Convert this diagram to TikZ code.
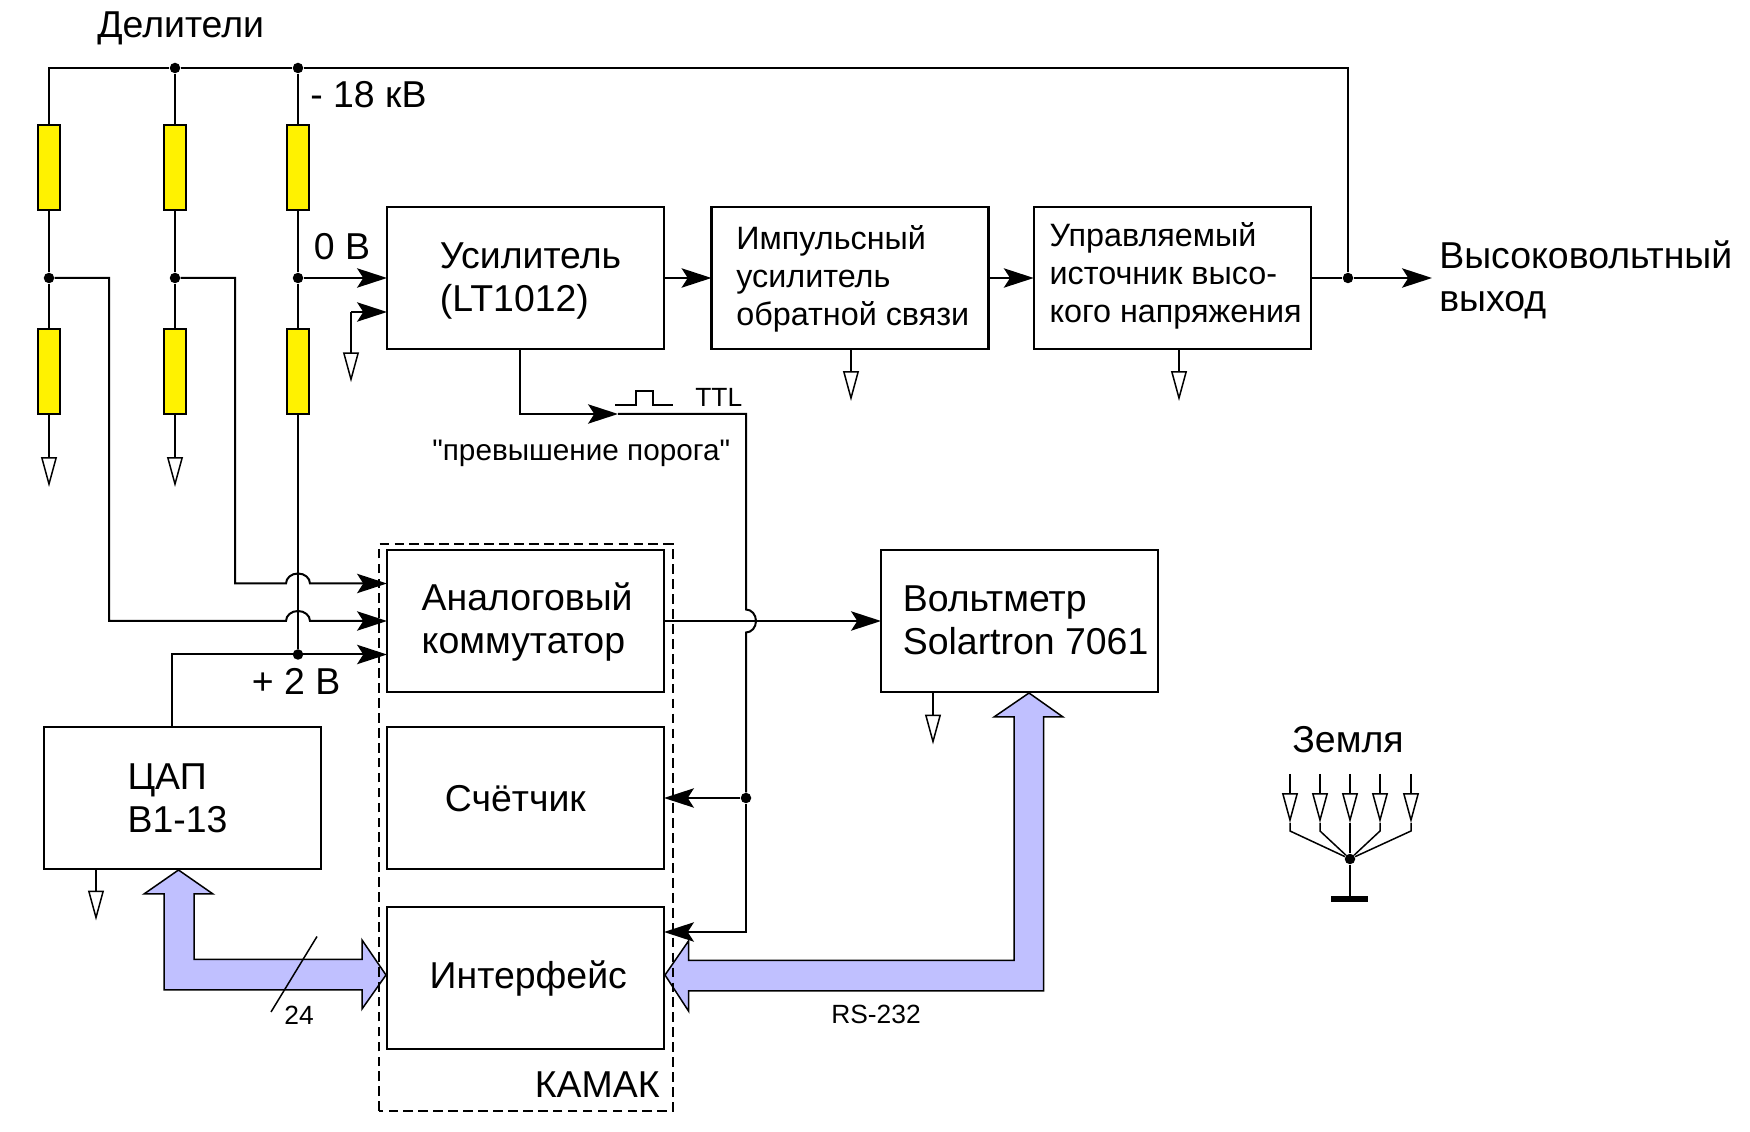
\documentclass[tikz,border=0pt]{standalone}
\usepackage{fontspec}
\setmainfont{Liberation Sans}
\newfontfamily\plainfont{Liberation Sans}
\usetikzlibrary{arrows.meta}
\definecolor{busblue}{RGB}{192,192,255}
\def\blocktext[#1]#2{\hspace*{#1}\begin{tabular}{@{}l@{}}#2\end{tabular}}
\tikzset{
	wire/.style={line width=0.4mm},
	sig/.style={wire,-{Stealth[length=17pt,width=11pt,inset=3.5pt]}},
	gnd/.style={line width=0.3mm,-{Triangle[open,length=17pt,width=9pt]}},
	dot/.style={circle,fill=black,inner sep=0pt,minimum size=0.21cm},
	res/.style={draw,line width=0.4mm,fill=yellow,inner sep=0pt,minimum width=0.44cm,minimum height=1.71cm},
	block/.style={draw,line width=0.45mm,inner sep=0pt,outer sep=0pt,minimum width=5.54cm,minimum height=2.83cm,font=\fontsize{21.3}{24.5}\selectfont},
	smallblock/.style={block,font=\fontsize{18.4}{21.6}\selectfont},
	lbl/.style={inner sep=0pt,anchor=base west,font=\fontsize{21.3}{24.5}\selectfont},
	tiny/.style={inner sep=0pt,anchor=base west,font=\fontsize{15}{17}\selectfont},
	bus/.style={draw,line width=0.3mm,fill=busblue},
}
\begin{document}
\begin{tikzpicture}
	\useasboundingbox (0,0) rectangle (35,22.62);
	%%%%% START %%%%%

	\node[res] (div1a) at (0.98, 19.27) {};
	\node[res] (div1b) at (0.98, 15.19) {};
	\node[res] (div2a) at (3.5, 19.27) {};
	\node[res] (div2b) at (3.5, 15.19) {};
	\node[res] (div3a) at (5.96, 19.27) {};
	\node[res] (div3b) at (5.96, 15.19) {};

	\node[dot] (top2) at (3.5, 21.26) {};
	\node[dot] (top3) at (5.96, 21.26) {};
	\node[dot] (mid1) at (0.98, 17.06) {};
	\node[dot] (mid2) at (3.5, 17.06) {};
	\node[dot] (mid3) at (5.96, 17.06) {};
	\node[dot] (plus2) at (5.96, 9.53) {};
	\node[dot] (outdot) at (26.96, 17.06) {};
	\node[dot] (cntdot) at (14.92, 6.66) {};

	\node[block] (amp) at (10.51, 17.06) {\blocktext[5.7pt]{Усилитель\\(LT1012)\\[-4.4pt]}};
	\node[smallblock] (pulse) at (17.0, 17.06) {\blocktext[3.2pt]{Импульсный\\усилитель\\обратной связи\\[-2.6pt]}};
	\node[smallblock] (ctrl) at (23.445, 17.06) {\blocktext[3.8pt]{Управляемый\\источник высо-\\кого напряжения\\[1.3pt]}};
	\node[block] (analog) at (10.51, 10.2) {\blocktext[1.9pt]{Аналоговый\\коммутатор\\[-2.6pt]}};
	\node[block] (counter) at (10.51, 6.66) {\blocktext[-11.5pt]{Счётчик\\[-5.1pt]}};
	\node[block] (iface) at (10.51, 3.06) {\blocktext[3.2pt]{Интерфейс\\[-2.6pt]}};
	\node[block] (dac) at (3.65, 6.66) {\blocktext[-5.7pt]{ЦАП\\В1-13\\[-4.5pt]}};
	\node[block] (volt) at (20.39, 10.2) {\blocktext[7pt]{Вольтметр\\Solartron 7061\\[-3.8pt]}};

	\coordinate (g1) at (0.98, 12.88);
	\coordinate (g2) at (3.5, 12.88);
	\coordinate (g3) at (7.02, 14.975);
	\coordinate (g4) at (17.02, 14.6);
	\coordinate (g5) at (23.58, 14.6);
	\coordinate (g6) at (18.66, 7.73);
	\coordinate (g7) at (1.92, 4.21);
	\coordinate (ampin) at (7.74, 16.38);
	\coordinate (ampcorner) at (7.02, 16.38);
	\coordinate (ampout) at (10.39, 15.645);
	\coordinate (ttl) at (12.36, 14.34);
	\coordinate (in1) at (7.74, 10.95);
	\coordinate (in3) at (7.74, 9.53);
	\coordinate (dacout) at (3.44, 8.075);
	\coordinate (ifin) at (13.28, 3.98);
	\coordinate (outtip) at (28.64, 17.06);

	% divider chains
	\draw[wire] (div1a.north) |- (top2) -- (top3) -| (outdot);
	\draw[wire] (top2) -- (div2a.north);
	\draw[wire] (top3) -- (div3a.north);
	\draw[wire] (div1a.south) -- (mid1) -- (div1b.north);
	\draw[wire] (div2a.south) -- (mid2) -- (div2b.north);
	\draw[wire] (div3a.south) -- (mid3) -- (div3b.north);
	\draw[wire] (div3b.south) -- (plus2);
	\draw[gnd] (div1b.south) -- (g1);
	\draw[gnd] (div2b.south) -- (g2);

	% top row
	\draw[sig] (mid3) -- (amp.west);
	\draw[sig] (ampcorner) -- (ampin);
	\draw[gnd] (ampcorner) -- (g3);
	\draw[sig] (amp.east) -- (pulse.west);
	\draw[sig] (pulse.east) -- (ctrl.west);
	\draw[wire] (ctrl.east) -- (outdot);
	\draw[sig] (outdot) -- (outtip);
	\draw[gnd] (pulse.south -| g4) -- (g4);
	\draw[gnd] (ctrl.south -| g5) -- (g5);

	% inputs of the switch, hopping over the third divider
	\draw[sig] (mid2) -| (4.7, 10.95) -- (5.72, 10.95) arc (180:0:0.24 and 0.2) -- (in1);
	\draw[sig] (mid1) -| (2.18, 10.2) -- (5.72, 10.2) arc (180:0:0.24 and 0.2) -- (analog.west);
	\draw[sig] (dacout) |- (in3);
	\draw[gnd] (dac.south -| g7) -- (g7);

	% threshold signal
	\draw[sig] (ampout) |- (ttl);
	\draw[wire] (ttl) -| (14.92, 10.43) arc (90:-90:0.2 and 0.23) -- (cntdot);
	\draw[sig] (cntdot) -- (counter.east);
	\draw[sig] (cntdot) |- (ifin);
	\draw[line width=0.3mm] (12.3, 14.52) -- (12.72, 14.52) -- (12.72, 14.8) -- (13.06, 14.8) -- (13.06, 14.52) -- (13.46, 14.52);

	\draw[sig] (analog.east) -- (volt.west);
	\draw[gnd] (volt.south -| g6) -- (g6);

	% buses
	\draw[bus] (3.57, 5.22) -- (4.26, 4.74) -- (3.88, 4.74) -- (3.88, 3.43) -- (7.24, 3.43) -- (7.24, 3.82) -- (7.72, 3.12) -- (7.24, 2.44) -- (7.24, 2.82) -- (3.28, 2.82) -- (3.28, 4.74) -- (2.88, 4.74) -- cycle;
	\draw[bus] (13.3, 3.12) -- (13.77, 3.8) -- (13.77, 3.41) -- (20.28, 3.41) -- (20.28, 8.28) -- (19.88, 8.28) -- (20.58, 8.76) -- (21.26, 8.28) -- (20.87, 8.28) -- (20.87, 2.8) -- (13.77, 2.8) -- (13.77, 2.4) -- cycle;
	\draw[line width=0.3mm] (5.42, 2.38) -- (6.34, 3.89);

	\draw[dash pattern=on 5.5pt off 3pt,line width=0.35mm] (7.58, 0.4) rectangle (13.46, 11.74);

	% ground
	\coordinate (fa1) at (25.8, 7.14);
	\coordinate (fa2) at (26.4, 7.14);
	\coordinate (fa3) at (27.0, 7.14);
	\coordinate (fa4) at (27.6, 7.14);
	\coordinate (fa5) at (28.22, 7.14);
	\coordinate (fb1) at (25.8, 6.16);
	\coordinate (fb2) at (26.4, 6.16);
	\coordinate (fb3) at (27.0, 6.16);
	\coordinate (fb4) at (27.6, 6.16);
	\coordinate (fb5) at (28.22, 6.16);
	\coordinate (fanfoot) at (27.0, 4.7);
	\node[dot] (fanj) at (27.0, 5.44) {};
	\draw[gnd] (fa1) -- (fb1);
	\draw[gnd] (fa2) -- (fb2);
	\draw[gnd] (fa3) -- (fb3);
	\draw[gnd] (fa4) -- (fb4);
	\draw[gnd] (fa5) -- (fb5);
	\draw[line width=0.3mm] (fb1) -- ++(0, -0.16) -- (fanj);
	\draw[line width=0.3mm] (fb2) -- ++(0, -0.16) -- (fanj);
	\draw[line width=0.3mm] (fb3) -- (fanj);
	\draw[line width=0.3mm] (fb4) -- ++(0, -0.16) -- (fanj);
	\draw[line width=0.3mm] (fb5) -- ++(0, -0.16) -- (fanj);
	\draw[line width=0.3mm] (fanj) -- (fanfoot);
	\draw[fill=black] (26.62, 4.6) rectangle (27.34, 4.7);

	% labels
	\node[lbl] (lbldiv) at (1.94, 21.875) {Делители};
	\node[lbl] (lblhv) at (6.2, 20.46) {- 18 кВ};
	\node[lbl] (lblzero) at (6.27, 17.42) {0 В};
	\node[lbl] (lblplus) at (5.03, 8.72) {+ 2 В};
	\node[lbl] (lblcamac) at (10.69, 0.665) {КАМАК};
	\node[lbl] (lblearth) at (25.84, 7.56) {Земля};
	\node[lbl,anchor=west,align=left] (hvout) at (28.78, 17.03) {Высоковольтный\\выход};
	\node[tiny] (lblttl) at (13.9, 14.48) {TTL};
	\node[lbl,font=\plainfont\fontsize{16.9}{20}\selectfont] (lblthr) at (8.64, 13.4) {"превышение порога"};
	\node[tiny] (lblbits) at (5.68, 2.135) {24};
	\node[tiny] (lblrs) at (16.62, 2.155) {RS-232};

	%%%%% END %%%%%
\end{tikzpicture}
\end{document}
